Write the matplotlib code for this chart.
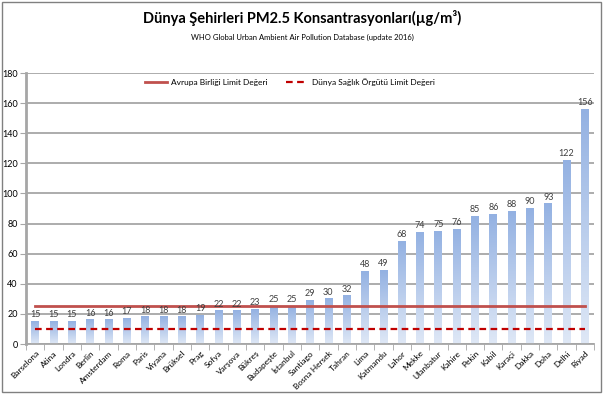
import numpy as np
import matplotlib
matplotlib.use("Agg")
import matplotlib.pyplot as plt
from matplotlib.patches import Rectangle

plt.rcParams['font.family'] = ['Lato', 'DejaVu Sans']

cities = ["Barselona", "Atina", "Londra", "Berlin", "Amsterdam", "Roma", "Paris",
          "Viyana", "Brüksel", "Prag", "Sofya", "Varşova", "Bükreş", "Budapeşte",
          "İstanbul", "Santiago", "Bosna Hersek", "Tahran", "Lima", "Katmandu",
          "Lahor", "Mekke", "Ulanbatur", "Kahire", "Pekin", "Kabil", "Karaçi",
          "Dakka", "Doha", "Delhi", "Riyad"]
pm25 = [15, 15, 15, 16, 16, 17, 18, 18, 18, 19, 22, 22, 23, 25, 25, 29, 30, 32,
        48, 49, 68, 74, 75, 76, 85, 86, 88, 90, 93, 122, 156]
eu_limit = 25
who_limit = 10
yticks = list(range(0, 181, 20))

fig = plt.figure(figsize=(6.05, 3.96), dpi=100)
ax = fig.add_axes([0.043, 0.1313, 0.939, 0.6843])

x = np.arange(len(cities))
w = 0.42
grad = np.linspace(0, 1, 256).reshape(-1, 1)
cmap = matplotlib.colors.LinearSegmentedColormap.from_list("bar", ["#dfe8f6", "#93b1e2"])
for xi, v in zip(x, pm25):
    ax.imshow(grad, extent=[xi - w / 2, xi + w / 2, 0, v], origin="lower",
              cmap=cmap, aspect="auto", zorder=2)
    ax.text(xi, v + 1.5, str(v), ha="center", va="bottom", fontsize=6.5,
            color="#404040", zorder=4)

ax.plot([x[0], x[-1]], [eu_limit, eu_limit], color="#c0504d", lw=2,
        label="Avrupa Birliği Limit Değeri", zorder=3)
ax.plot([x[0], x[-1]], [who_limit, who_limit], color="#c00000", lw=1.6,
        ls=(0, (3, 2)), label="Dünya Sağlık Örgütü Limit Değeri", zorder=3)

ax.set_xlim(-0.5, len(cities) - 0.5)
ax.set_ylim(0, 180)
ax.set_yticks(yticks)
ax.set_yticklabels([str(t) for t in yticks], fontsize=6.5)
ax.yaxis.grid(True, color="#a6a6a6", lw=1.3)
ax.set_axisbelow(True)

ax.set_xticks(x)
ax.set_xticklabels(cities, rotation=45, ha="right", rotation_mode="anchor", fontsize=6)
ax.set_xticks(np.arange(-0.5, len(cities)), minor=True)
ax.tick_params(axis="x", which="major", length=0, pad=4)
ax.tick_params(axis="x", which="minor", length=4, color="#a6a6a6")
ax.tick_params(axis="y", length=4, color="#a6a6a6", pad=2)

for s in ["top", "right"]:
    ax.spines[s].set_visible(False)
ax.spines["left"].set_color("#a6a6a6")
ax.spines["left"].set_linewidth(2)
ax.spines["bottom"].set_color("#a6a6a6")
ax.spines["bottom"].set_linewidth(1.3)

leg = ax.legend(loc="upper center", bbox_to_anchor=(0.465, 1.01), ncol=2,
                frameon=False, fontsize=6, handlelength=2.6, handletextpad=0.5,
                columnspacing=2.2)

fig.text(0.5, 0.955, "Dünya Şehirleri PM2.5 Konsantrasyonları(µg/m³)",
         ha="center", va="center", fontsize=10.5, fontweight="bold")
fig.text(0.5, 0.905, "WHO Global Urban Ambient Air Pollution Database (update 2016)",
         ha="center", va="center", fontsize=5.5)

fig.patches.append(Rectangle((0.003, 0.01), 0.99, 0.985, transform=fig.transFigure,
                             fill=False, edgecolor="#808080", lw=1))

fig.savefig("out.png", dpi=100)
